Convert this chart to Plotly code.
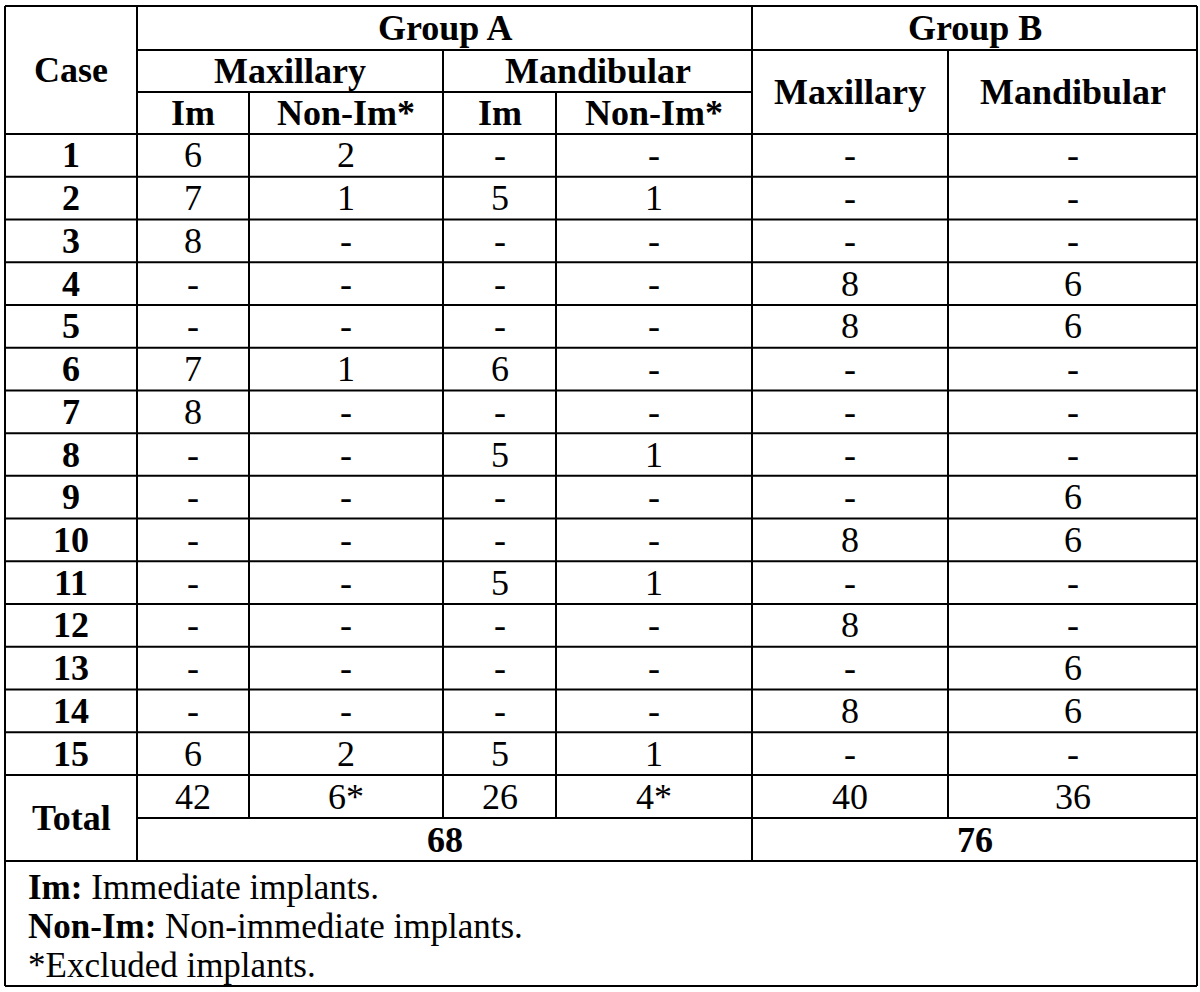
import plotly.graph_objects as go

# ---- data ----
cases = [str(i) for i in range(1, 16)]
a_max_im =    [6, 7, 8, None, None, 7, 8, None, None, None, None, None, None, None, 6]
a_max_nonim = [2, 1, None, None, None, 1, None, None, None, None, None, None, None, None, 2]
a_man_im =    [None, 5, None, None, None, 6, None, 5, None, None, 5, None, None, None, 5]
a_man_nonim = [None, 1, None, None, None, None, None, 1, None, None, 1, None, None, None, 1]
b_max =       [None, None, None, 8, 8, None, None, None, None, 8, None, 8, None, 8, None]
b_man =       [None, None, None, 6, 6, None, None, None, 6, 6, None, None, 6, 6, None]
footnotes = [("<b>Im:</b>", " Immediate implants."),
             ("<b>Non-Im:</b>", " Non-immediate implants."),
             ("*", "Excluded implants.")]

def tot(v):
    return sum(x for x in v if x is not None)

FONT = "Liberation Serif, Times New Roman, serif"
FS = 36
W, H = 1200, 992

# layout geometry (pixels)
xL, xR = 5, 1197
xc = [xL, 137, 249, 443, 556, 752, 948, xR]
yTop, y1, y2, yHead = 6, 50, 92, 134
yRowsEnd = 775
nrows = len(cases)
rh = (yRowsEnd - yHead) / nrows
yTot, ySum, yFoot, yBot = yRowsEnd, 818, 861, 986

fig = go.Figure()
fig.add_trace(go.Scatter(x=[0, W], y=[0, H], mode="markers",
                         marker=dict(opacity=0), hoverinfo="skip", showlegend=False))

shapes = []
def hline(y, x0, x1):
    shapes.append(dict(type="line", xref="x", yref="y", x0=x0, x1=x1, y0=y, y1=y,
                       line=dict(color="black", width=2)))
def vline(x, y0, y1_):
    shapes.append(dict(type="line", xref="x", yref="y", x0=x, x1=x, y0=y0, y1=y1_,
                       line=dict(color="black", width=2)))

hline(yTop, xL, xR)
hline(yBot, xL, xR)
hline(y1, xc[1], xR)
hline(y2, xc[1], xc[5])
hline(yHead, xL, xR)
for k in range(1, nrows + 1):
    hline(yHead + k * rh, xL, xR)
hline(ySum, xc[1], xR)
hline(yFoot, xL, xR)
vline(xL, yTop, yBot)
vline(xR, yTop, yBot)
vline(xc[1], yTop, yFoot)
vline(xc[5], yTop, yFoot)
vline(xc[2], y2, ySum)
vline(xc[4], y2, ySum)
vline(xc[3], y1, ySum)
vline(xc[6], y1, ySum)

ann = []
def txt(x0, x1, y0, y1_, s, bold=False):
    ann.append(dict(x=(x0 + x1) / 2, y=(y0 + y1_) / 2, xref="x", yref="y",
                    text=f"<b>{s}</b>" if bold else s, showarrow=False,
                    xanchor="center", yanchor="middle",
                    font=dict(family=FONT, size=FS, color="black")))

# header
txt(xc[0], xc[1], yTop, yHead, "Case", True)
txt(xc[1], xc[5], yTop, y1, "Group A", True)
txt(xc[5], xc[7], yTop, y1, "Group B", True)
txt(xc[1], xc[3], y1, y2, "Maxillary", True)
txt(xc[3], xc[5], y1, y2, "Mandibular", True)
txt(xc[5], xc[6], y1, yHead, "Maxillary", True)
txt(xc[6], xc[7], y1, yHead, "Mandibular", True)
txt(xc[1], xc[2], y2, yHead, "Im", True)
txt(xc[2], xc[3], y2, yHead, "Non-Im*", True)
txt(xc[3], xc[4], y2, yHead, "Im", True)
txt(xc[4], xc[5], y2, yHead, "Non-Im*", True)

cols = [a_max_im, a_max_nonim, a_man_im, a_man_nonim, b_max, b_man]
def fmt(v):
    return "-" if v is None else str(v)
for i, c in enumerate(cases):
    r0 = yHead + i * rh
    r1 = r0 + rh
    txt(xc[0], xc[1], r0, r1, c, True)
    for j, col in enumerate(cols):
        txt(xc[j + 1], xc[j + 2], r0, r1, fmt(col[i]))

# totals
txt(xc[0], xc[1], yTot, yFoot, "Total", True)
tot_labels = [str(tot(a_max_im)), f"{tot(a_max_nonim)}*", str(tot(a_man_im)),
              f"{tot(a_man_nonim)}*", str(tot(b_max)), str(tot(b_man))]
for j, s in enumerate(tot_labels):
    txt(xc[j + 1], xc[j + 2], yTot, ySum, s)
txt(xc[1], xc[5], ySum, yFoot, str(tot(a_max_im) + tot(a_man_im)), True)
txt(xc[5], xc[7], ySum, yFoot, str(tot(b_max) + tot(b_man)), True)

# footnotes
for k, (b, rest) in enumerate(footnotes):
    ann.append(dict(x=26, y=887 + k * 39, xref="x", yref="y",
                    text=f"{b}{rest}", showarrow=False,
                    xanchor="left", yanchor="middle",
                    font=dict(family=FONT, size=FS - 1, color="black")))

fig.update_layout(
    width=W, height=H, margin=dict(l=0, r=0, t=0, b=0),
    paper_bgcolor="white", plot_bgcolor="white",
    xaxis=dict(range=[0, W], visible=False, fixedrange=True),
    yaxis=dict(range=[H, 0], visible=False, fixedrange=True),
    shapes=shapes, annotations=ann, showlegend=False,
)
fig.write_html("out.html", config={"displayModeBar": False},
               post_script="document.body.style.margin='0';document.body.style.padding='0';")
